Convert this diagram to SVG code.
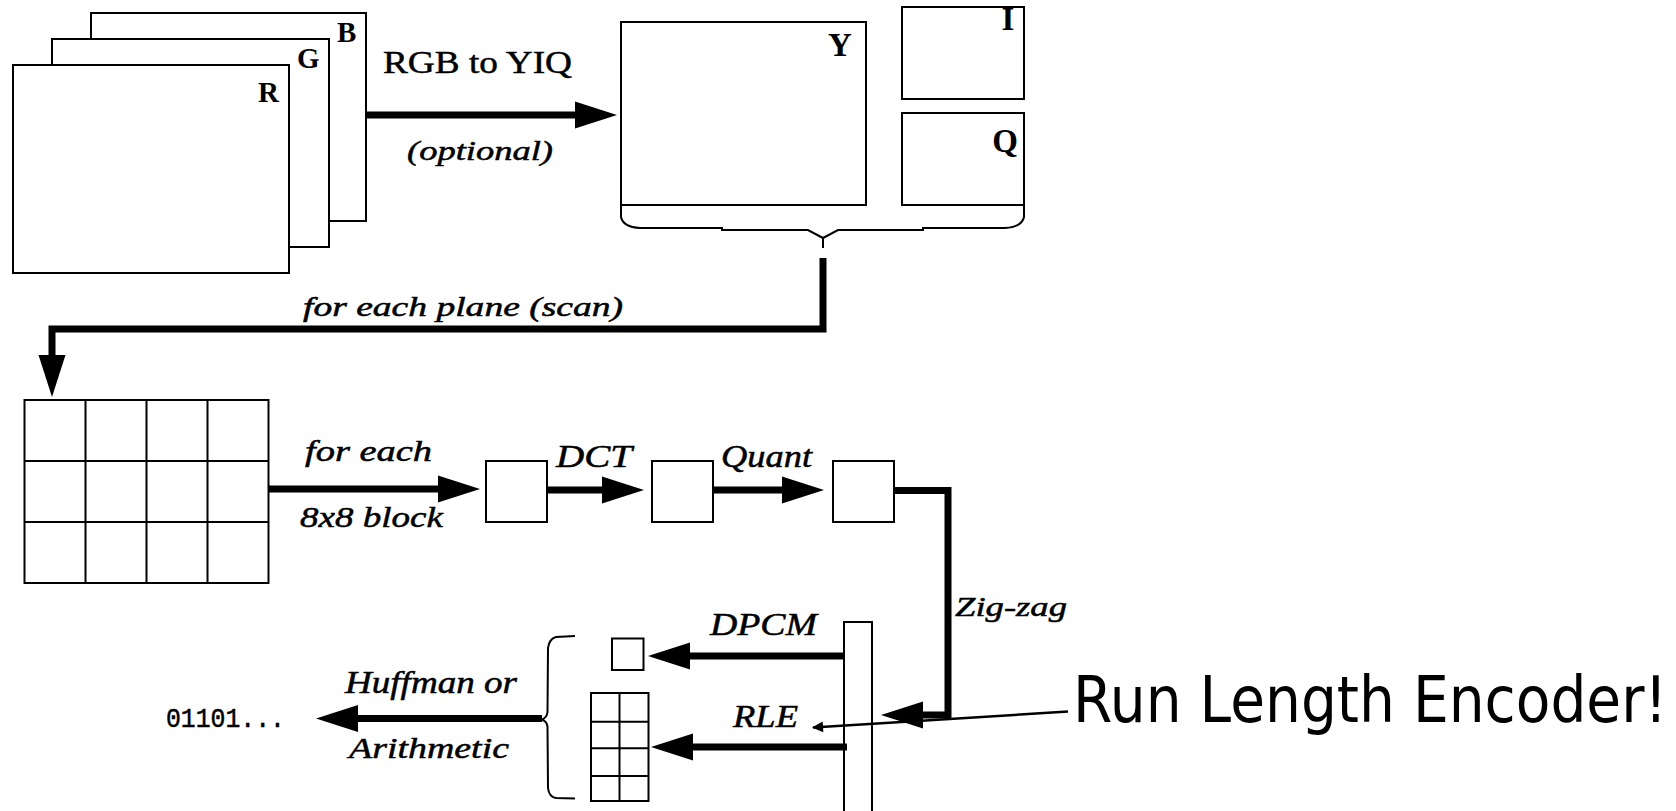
<svg xmlns="http://www.w3.org/2000/svg" width="1676" height="811" viewBox="0 0 1676 811">
<style>
.box{fill:#fff;stroke:#000;stroke-width:2}
.grid{fill:none;stroke:#000;stroke-width:2}
.thick{fill:none;stroke:#000;stroke-width:7;stroke-linejoin:miter}
.thin{fill:none;stroke:#000;stroke-width:2}
.t{font-family:"Liberation Serif","Times New Roman",serif;fill:#000;stroke:#000;stroke-width:0.5}
.i{font-style:italic}
.b{font-weight:bold;stroke-width:0}
</style>
<defs>
<marker id="ah" markerUnits="userSpaceOnUse" markerWidth="44" markerHeight="28" refX="0" refY="13.5" orient="auto" overflow="visible">
<path d="M0,0 L42,13.5 L0,27 z" fill="#000"/>
</marker>
<marker id="sah" markerUnits="userSpaceOnUse" markerWidth="12" markerHeight="12" refX="10" refY="5.5" orient="auto" overflow="visible">
<path d="M0,0 L11,5.5 L0,11 z" fill="#000"/>
</marker>
</defs>
<rect width="1676" height="811" fill="#fff"/>

<g id="plane-B"><rect class="box" x="91" y="13" width="275" height="208"/><text class="t b" x="337" y="42" font-size="29">B</text></g>
<g id="plane-G"><rect class="box" x="52" y="39" width="277" height="208"/><text class="t b" x="297" y="68" font-size="29">G</text></g>
<g id="plane-R"><rect class="box" x="13" y="65" width="276" height="208"/><text class="t b" x="258" y="102" font-size="29">R</text></g>

<g id="plane-Y"><rect class="box" x="621" y="22" width="245" height="183"/><text class="t b" x="828" y="56" font-size="33">Y</text></g>
<g id="plane-I"><rect class="box" x="902" y="7" width="122" height="92"/><text class="t b" x="1008" y="30" font-size="33" text-anchor="middle">I</text></g>
<g id="plane-Q"><rect class="box" x="902" y="113" width="122" height="92"/><text class="t b" x="1005" y="152" font-size="33" text-anchor="middle">Q</text></g>
<g id="brace-top"><path class="thin" d="M621,205 L621,217 Q623,227 640,228 L722,228 L722,230 L808,230 L823,238 L838,230 L923,230 L923,228 L1005,228 Q1022,227 1024,217 L1024,205 M823,238 L823,248"/></g>

<g id="block-grid">
<rect class="box" x="24.5" y="400" width="244" height="183"/>
<path class="grid" d="M85.5,400 V583 M146.5,400 V583 M207.5,400 V583 M24.5,461 H268.5 M24.5,522 H268.5"/>
</g>

<g id="block-1"><rect class="box" x="486" y="461" width="61" height="61"/></g>
<g id="block-dct"><rect class="box" x="652" y="461" width="61" height="61"/></g>
<g id="block-quant"><rect class="box" x="833" y="461" width="61" height="61"/></g>

<g id="zigzag-bar"><rect class="box" x="844" y="622" width="28" height="200"/></g>
<g id="dc-coef"><rect class="box" x="612" y="638.5" width="31.5" height="31.5"/></g>
<g id="ac-coefs">
<rect class="box" x="591" y="693" width="57.5" height="108"/>
<path class="grid" d="M619.5,693 V801 M591,721.7 H648.5 M591,748.3 H648.5 M591,776 H648.5"/>
</g>
<g id="brace-bottom"><path class="thin" d="M575,636 L556,637 Q549,639 548,648 L547.5,712 Q547,718 541.5,719.5 Q547,721 547.5,727 L548,788 Q549,797 556,798 L575,798.5"/></g>

<g id="output"><text x="166" y="727" font-family="Liberation Mono, Courier New, monospace" font-size="27" textLength="119" lengthAdjust="spacingAndGlyphs" fill="#000" stroke="#000" stroke-width="0.5">01101...</text></g>

<g id="connectors">
<path class="thick" d="M366,115 H575" marker-end="url(#ah)"/>
<path class="thick" d="M823,258 V329 H52 V355" marker-end="url(#ah)"/>
<path class="thick" d="M268.5,489 H438" marker-end="url(#ah)"/>
<path class="thick" d="M547,490 H602" marker-end="url(#ah)"/>
<path class="thick" d="M713,490 H782" marker-end="url(#ah)"/>
<path class="thick" d="M894,490.5 H948 V715 H923" marker-end="url(#ah)"/>
<path class="thick" d="M844,656 H690" marker-end="url(#ah)"/>
<path class="thick" d="M847,747 H693" marker-end="url(#ah)"/>
<path class="thick" d="M542,718.5 H358" marker-end="url(#ah)"/>
<path fill="none" stroke="#000" stroke-width="2.5" d="M1068,711.5 L813,727.5" marker-end="url(#sah)"/>
</g>

<g id="labels">
<text class="t" x="383" y="73" font-size="32" textLength="189" lengthAdjust="spacingAndGlyphs">RGB to YIQ</text>
<text class="t i" x="407" y="160" font-size="28" textLength="146" lengthAdjust="spacingAndGlyphs">(optional)</text>
<text class="t i" x="303" y="316" font-size="27" textLength="320" lengthAdjust="spacingAndGlyphs">for each plane (scan)</text>
<text class="t i" x="305" y="461" font-size="29" textLength="127" lengthAdjust="spacingAndGlyphs">for each</text>
<text class="t i" x="300" y="527" font-size="30" textLength="143" lengthAdjust="spacingAndGlyphs">8x8 block</text>
<text class="t i" x="556" y="467" font-size="31" textLength="76" lengthAdjust="spacingAndGlyphs">DCT</text>
<text class="t i" x="721" y="467" font-size="31" textLength="91" lengthAdjust="spacingAndGlyphs">Quant</text>
<text class="t i" x="955" y="616" font-size="28" textLength="112" lengthAdjust="spacingAndGlyphs">Zig-zag</text>
<text class="t i" x="710" y="635" font-size="31" textLength="107" lengthAdjust="spacingAndGlyphs">DPCM</text>
<text class="t i" x="733" y="727" font-size="31" textLength="65" lengthAdjust="spacingAndGlyphs">RLE</text>
<text class="t i" x="345" y="693" font-size="31" textLength="172" lengthAdjust="spacingAndGlyphs">Huffman or</text>
<text class="t i" x="349" y="758" font-size="30" textLength="160" lengthAdjust="spacingAndGlyphs">Arithmetic</text>
<text transform="translate(1073,722) scale(0.885,1)" x="0" y="0" font-family="DejaVu Sans, Verdana, sans-serif" font-size="64" fill="#000">Run Length Encoder!</text>
</g>
</svg>
